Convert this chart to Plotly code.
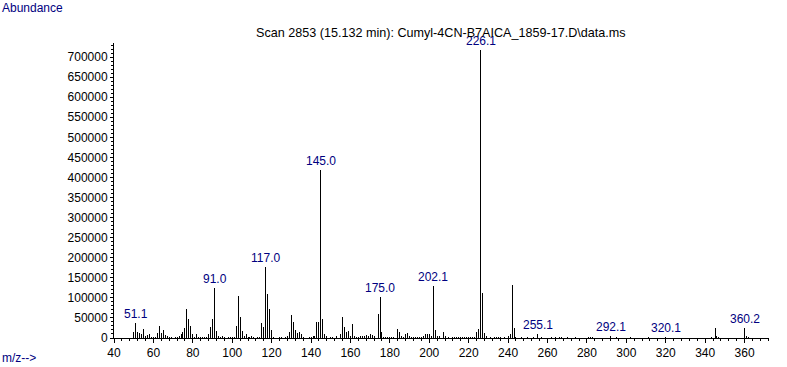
import plotly.graph_objects as go

# m/z values and abundances
mz = [50, 51, 52, 53, 54, 55, 56, 57, 58, 59, 60, 61, 62, 63, 64, 65, 66, 67, 68, 69,
      71, 72, 73, 74, 75, 76, 77, 78, 79, 80, 81, 82, 83, 84, 85, 86, 87, 88, 89, 90,
      91, 92, 93, 94, 95, 96, 98, 99, 100, 101, 102, 103, 104, 105, 106, 107, 108, 109, 110, 111,
      113, 114, 115, 116, 117, 118, 119, 120, 121, 124, 125, 127, 128, 129, 130, 131, 132, 133, 134, 135,
      136, 139, 140, 141, 142, 143, 144, 145, 146, 147, 148, 150, 151, 153, 155, 156, 157, 158, 159, 160,
      161, 162, 163, 164, 165, 166, 167, 168, 169, 170, 171, 172, 174, 175, 176, 177, 178, 179, 180, 181,
      182, 184, 185, 186, 187, 188, 189, 190, 191, 192, 193, 194, 195, 196, 197, 198, 199, 200, 201, 202,
      203, 204, 205, 207, 208, 210, 212, 213, 214, 215, 216, 217, 218, 219, 220, 221, 222, 223, 224, 225,
      226, 227, 228, 229, 231, 233, 234, 235, 236, 238, 240, 241, 242, 243, 244, 247, 250, 253, 255, 257,
      262, 264, 266, 267, 270, 274, 281, 282, 283, 292, 295, 302, 311, 320, 343, 345, 346, 347, 360, 361,
      362]
abundance = [15000, 38000, 15000, 12500, 10000, 22000, 5000, 7500, 10000, 3000, 2000, 3000, 12500, 30000, 11600, 20000, 7500, 4000, 2500, 2000,
             2500, 3000, 5000, 10000, 15000, 25000, 72000, 48000, 30000, 9000, 3000, 10000, 3000, 3000, 3000, 3000, 3000, 10000, 28000, 47000,
             124500, 17000, 4000, 3000, 5000, 3000, 3000, 3000, 3000, 3000, 30000, 104600, 53000, 17000, 5000, 9000, 3000, 2500, 4000, 2000,
             2500, 3000, 37400, 27400, 178000, 110000, 73000, 20000, 3000, 3000, 3000, 3000, 4000, 15000, 57000, 39000, 20000, 11700, 14000, 9000,
             3000, 3000, 3000, 4000, 5000, 40600, 40600, 418000, 48000, 9000, 5000, 2500, 3000, 4000, 9000, 52000, 27000, 14000, 17000, 6000,
             35000, 6000, 3000, 3000, 4000, 4000, 5000, 8000, 5000, 10000, 7000, 4000, 60000, 102000, 14000, 3000, 3000, 3000, 3000, 3000,
             3000, 22000, 15000, 4000, 3000, 10000, 12500, 4000, 3000, 3000, 3000, 3000, 3000, 3000, 4000, 10000, 10000, 10000, 6000, 129500,
             20000, 4000, 4000, 15000, 4000, 2500, 2500, 2500, 2500, 2500, 2500, 2500, 2500, 2500, 2500, 2500, 3000, 3000, 14000, 22000,
             717000, 112000, 12500, 4000, 2500, 3000, 3000, 3000, 2500, 2000, 4000, 10000, 132000, 25000, 3000, 2500, 2000, 2000, 10000, 2000,
             2500, 3000, 2500, 3000, 2000, 2000, 3000, 3000, 2500, 5000, 2000, 2500, 2000, 2500, 2500, 25000, 6000, 3000, 25000, 6000,
             2500]

peak_labels = ["51.1", "91.0", "117.0", "145.0", "175.0", "202.1", "226.1", "255.1", "292.1", "320.1", "360.2"]

x_ticks = list(range(40, 361, 20))
y_ticks = list(range(0, 700001, 50000))

title_text = "Scan 2853 (15.132 min): Cumyl-4CN-B7AICA_1859-17.D\\data.ms"

FONT = "Liberation Sans, Arial, sans-serif"
NAVY = "#000080"

# stick spectrum: one vertical segment per m/z, built from the data arrays
seg_x, seg_y = [], []
for m, a in zip(mz, abundance):
    seg_x += [m, m, None]
    seg_y += [0, a, None]

fig = go.Figure()
fig.add_trace(go.Scatter(x=seg_x, y=seg_y, mode="lines",
                         line=dict(color="black", width=1),
                         connectgaps=False, hoverinfo="skip"))

lookup = dict(zip(mz, abundance))
for lab in peak_labels:
    xv = float(lab)
    yv = lookup.get(round(xv), 0)
    fig.add_annotation(x=round(xv), y=yv, text=lab, showarrow=False,
                       xanchor="center", yanchor="bottom", yshift=0,
                       font=dict(family=FONT, size=12, color=NAVY))

fig.add_annotation(xref="paper", yref="paper", x=(441 - 114) / 655, y=1, yshift=1,
                   text=title_text, showarrow=False, xanchor="center", yanchor="bottom",
                   font=dict(family=FONT, size=12.6, color="black"))
fig.add_annotation(xref="paper", yref="paper", x=-114 / 655, y=1 + 35 / 295,
                   text="Abundance", showarrow=False, xanchor="left", yanchor="middle",
                   font=dict(family=FONT, size=12, color=NAVY))
fig.add_annotation(xref="paper", yref="paper", x=-114 / 655, y=-20 / 295,
                   text="m/z-->", showarrow=False, xanchor="left", yanchor="middle",
                   font=dict(family=FONT, size=12, color=NAVY))

fig.update_layout(
    width=787, height=367,
    margin=dict(l=114, r=18, t=43, b=29, autoexpand=False),
    paper_bgcolor="white", plot_bgcolor="white",
    showlegend=False,
    font=dict(family=FONT, size=12, color="black"),
    xaxis=dict(range=[40, 372.4], tickmode="array", tickvals=x_ticks,
               ticks="outside", ticklen=4, tickcolor="black", tickwidth=1,
               automargin=False,
               minor=dict(dtick=4, tick0=40, ticks="outside", ticklen=2, tickcolor="black"),
               showline=True, linecolor="black", linewidth=1, showgrid=False, zeroline=False,
               tickfont=dict(family=FONT, size=12, color="black")),
    yaxis=dict(range=[0, 735000], tickmode="array", tickvals=y_ticks,
               ticks="outside", ticklen=3, tickcolor="black", tickwidth=1,
               automargin=False,
               minor=dict(dtick=10000, tick0=0, ticks="outside", ticklen=2, tickcolor="black"),
               showline=True, linecolor="black", linewidth=1, showgrid=False, zeroline=False,
               tickformat="d",
               tickfont=dict(family=FONT, size=12, color="black")),
)

post = (
    "document.body.style.margin='0';document.body.style.padding='0';"
    "document.body.style.overflow='hidden';"
    "var st=document.createElement('style');"
    "st.textContent='.scatterlayer path.js-line{shape-rendering:crispEdges;}';"
    "document.head.appendChild(st);"
)
fig.write_html("out.html", config={"displayModeBar": False}, post_script=post)
